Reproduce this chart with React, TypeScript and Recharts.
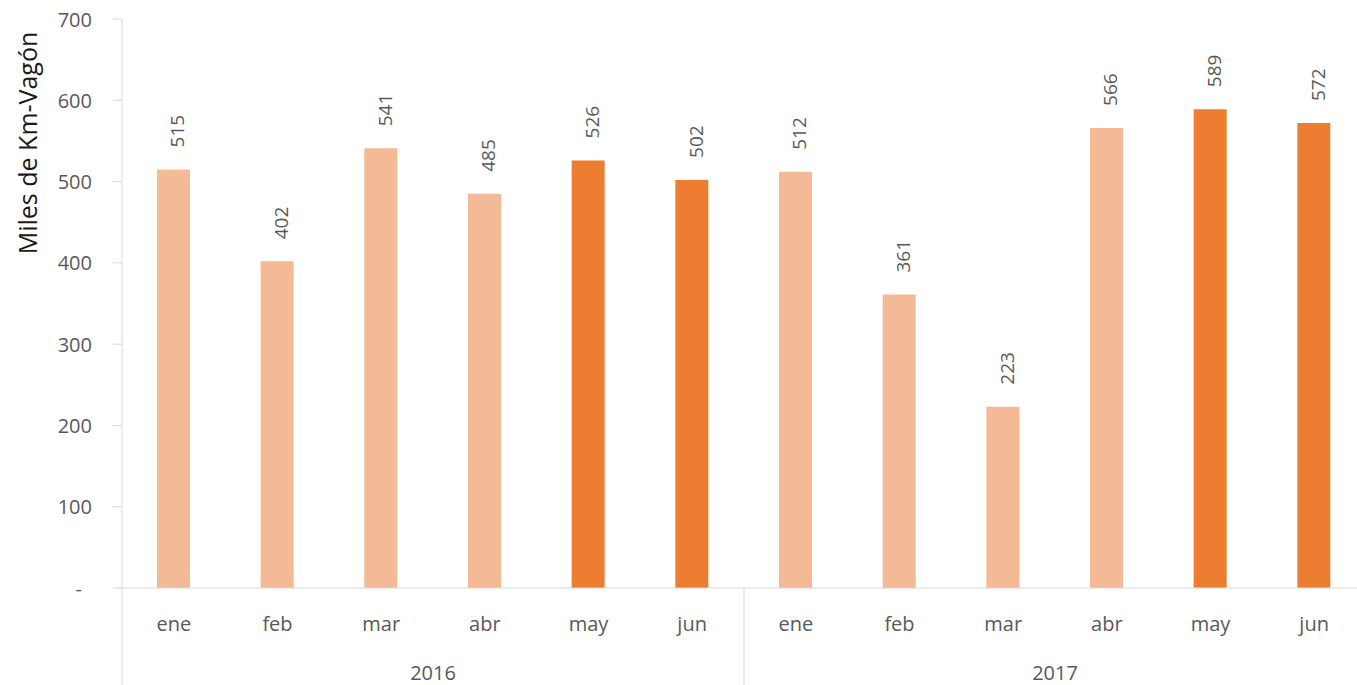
import { Bar, BarChart, Cell, LabelList, XAxis, YAxis } from "recharts"

const months = ["ene", "feb", "mar", "abr", "may", "jun", "ene", "feb", "mar", "abr", "may", "jun"]
const years = ["2016", "2016", "2016", "2016", "2016", "2016", "2017", "2017", "2017", "2017", "2017", "2017"]
const values = [515, 402, 541, 485, 526, 502, 512, 361, 223, 566, 589, 572]
const highlighted = [false, false, false, false, true, true, false, false, false, false, true, true]
const yTicks = [0, 100, 200, 300, 400, 500, 600, 700]

const LIGHT = "#F4B995"
const DARK = "#ED7D31"
const AXIS = "#D9D9D9"
const TEXT = "#595959"
const FONT = "'Open Sans', sans-serif"

const data = months.map((month, i) => ({
  month,
  year: years[i],
  value: values[i],
  dark: highlighted[i],
}))

function YTick(props: any) {
  const { x, y, payload } = props
  const isZero = payload.value === 0
  return (
    <text
      x={isZero ? x - 10 : x}
      y={y}
      textAnchor="end"
      dominantBaseline="central"
      fill={TEXT}
      fontSize={20}
      fontFamily={FONT}
    >
      {isZero ? "-" : payload.value}
    </text>
  )
}

function XTick(props: any) {
  const { x, y, payload, index, width } = props
  const band = payload.offset ? payload.offset * 2 : (width ?? 1244) / months.length
  const groupStart = index % 6 === 0
  return (
    <g>
      <text
        x={x}
        y={y + 35}
        textAnchor="middle"
        dominantBaseline="central"
        fill={TEXT}
        fontSize={20}
        fontFamily={FONT}
      >
        {months[index]}
      </text>
      {groupStart && (
        <>
          <line x1={x - band / 2} x2={x - band / 2} y1={y} y2={y + 97} stroke={AXIS} strokeWidth={1} />
          <text
            x={x - band / 2 + band * 3}
            y={y + 84}
            textAnchor="middle"
            dominantBaseline="central"
            fill={TEXT}
            fontSize={20}
            fontFamily={FONT}
          >
            {years[index]}
          </text>
        </>
      )}
    </g>
  )
}

function ValueLabel(props: any) {
  const { x, y, width, value } = props
  const cx = x + width / 2 + 4
  const cy = y - 22
  return (
    <text
      x={cx}
      y={cy}
      transform={`rotate(-90, ${cx}, ${cy})`}
      textAnchor="start"
      dominantBaseline="central"
      fill={TEXT}
      fontSize={19}
      fontFamily={FONT}
    >
      {value}
    </text>
  )
}

function YTitle(props: any) {
  const { viewBox } = props
  const cx = (viewBox?.x ?? 0) + 27
  const cy = (viewBox?.y ?? 19) + 124
  return (
    <text
      x={cx}
      y={cy}
      transform={`rotate(-90, ${cx}, ${cy})`}
      textAnchor="middle"
      dominantBaseline="central"
      fill="#1a1a1a"
      fontSize={25}
      fontFamily={FONT}
    >
      Miles de Km-Vagón
    </text>
  )
}

export default function App() {
  return (
    <div
      style={{
        position: "absolute",
        left: 0,
        top: 0,
        width: 1357,
        height: 685,
        overflow: "hidden",
        background: "#fff",
      }}
    >
      <BarChart
        width={1372}
        height={685}
        data={data}
        margin={{ top: 19, right: 6, left: 0, bottom: 0 }}
      >
        <XAxis
          dataKey="month"
          height={97}
          interval={0}
          tickLine={false}
          tickSize={0}
          tickMargin={0}
          axisLine={{ stroke: AXIS }}
          tick={<XTick />}
        />
        <YAxis
          width={122}
          domain={[0, 700]}
          ticks={yTicks}
          tickSize={9}
          tickMargin={21}
          axisLine={{ stroke: AXIS }}
          tickLine={{ stroke: AXIS }}
          tick={<YTick />}
          label={<YTitle />}
        />
        <Bar dataKey="value" barSize={33} isAnimationActive={false}>
          {data.map((d, i) => (
            <Cell key={i} fill={d.dark ? DARK : LIGHT} />
          ))}
          <LabelList dataKey="value" content={<ValueLabel />} />
        </Bar>
      </BarChart>
    </div>
  )
}
